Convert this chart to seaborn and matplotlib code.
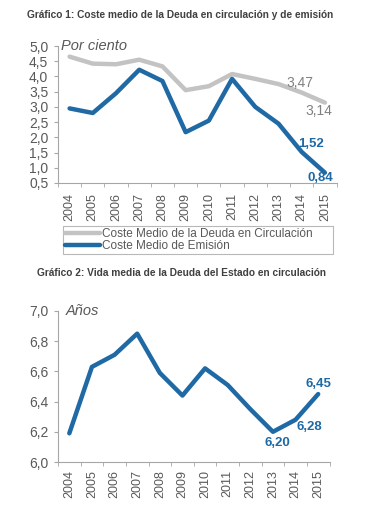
import matplotlib
matplotlib.use("Agg")
import matplotlib.pyplot as plt
import seaborn as sns
import pandas as pd
from matplotlib.ticker import FixedLocator, FuncFormatter
from matplotlib.lines import Line2D

years = ["2004", "2005", "2006", "2007", "2008", "2009", "2010", "2011", "2012", "2013", "2014", "2015"]
coste_circulacion = [4.65, 4.42, 4.40, 4.55, 4.33, 3.55, 3.68, 4.08, 3.92, 3.75, 3.47, 3.14]
coste_emision = [2.95, 2.80, 3.45, 4.22, 3.85, 2.17, 2.55, 3.92, 3.00, 2.45, 1.52, 0.84]
vida_media = [6.19, 6.63, 6.71, 6.85, 6.59, 6.44, 6.62, 6.51, 6.35, 6.20, 6.28, 6.45]

label_circ = "Coste Medio de la Deuda en Circulación"
label_emis = "Coste Medio de Emisión"
title1 = "Gráfico 1: Coste medio de la Deuda en circulación y de emisión"
title2 = "Gráfico 2: Vida media de la Deuda del Estado en circulación"
ylab1 = "Por ciento"
ylab2 = "Años"
yticks1 = [0.5, 1.0, 1.5, 2.0, 2.5, 3.0, 3.5, 4.0, 4.5, 5.0]
yticks2 = [6.0, 6.2, 6.4, 6.6, 6.8, 7.0]

sns.set_style("white")
plt.rcParams["font.family"] = ["Liberation Sans", "DejaVu Sans"]

BLUE = "#1f69a5"
GRAY = "#c3c3c3"
TXT = "#595959"

W, H = 377, 523
fig = plt.figure(figsize=(W / 100, H / 100), dpi=100)

def px_axes(left, top, right, bottom):
    return fig.add_axes([left / W, 1 - bottom / H, (right - left) / W, (bottom - top) / H])

df1 = pd.DataFrame({"x": list(range(len(years))) * 2,
                    "y": coste_circulacion + coste_emision,
                    "serie": [label_circ] * len(years) + [label_emis] * len(years)})
df2 = pd.DataFrame({"x": list(range(len(years))), "y": vida_media})

def style_axes(ax, yticks, fmt, ylim, xpad):
    for s in ["top", "right"]:
        ax.spines[s].set_visible(False)
    for s in ["left", "bottom"]:
        ax.spines[s].set_color("#a6a6a6")
        ax.spines[s].set_linewidth(0.8)
    ax.set_xlim(-0.5, len(years) - 0.5)
    ax.set_ylim(*ylim)
    ax.set_yticks(yticks)
    ax.yaxis.set_major_formatter(FuncFormatter(lambda v, p: fmt.format(v).replace(".", ",")))
    ax.set_xticks(range(len(years)))
    ax.set_xticklabels(years, rotation=90)
    ax.xaxis.set_minor_locator(FixedLocator([i - 0.5 for i in range(len(years) + 1)]))
    ax.tick_params(axis="x", which="major", length=0, pad=xpad, labelsize=9, labelcolor=TXT)
    ax.tick_params(axis="x", which="minor", length=3, color="#a6a6a6", direction="out", bottom=True)
    ax.tick_params(axis="y", length=3, color="#a6a6a6", direction="out", left=True, labelsize=10,
                   labelcolor=TXT, pad=4)
    ax.set_xlabel("")
    ax.set_ylabel("")

# Chart 1
ax1 = px_axes(58, 46, 336.5, 183)
sns.lineplot(data=df1, x="x", y="y", hue="serie", palette=[GRAY, BLUE], linewidth=3.2,
             ax=ax1, legend=False, sort=False)
style_axes(ax1, yticks1, "{:.1f}", (0.5, 5.0), 7)
ax1.text(0.01, 1.0, ylab1, transform=ax1.transAxes, fontsize=10.5, style="italic", color=TXT,
         va="center", ha="left")
fig.text(27 / W, 1 - 15 / H, title1, fontsize=7.3, fontweight="bold", color="#404040",
         va="center", ha="left")

ann1 = [(10, coste_circulacion[10], (-1.5, 7), "#808080", "normal", 10),
        (11, coste_circulacion[11], (-4, -6), "#808080", "normal", 10),
        (10, coste_emision[10], (6.5, 6), BLUE, "bold", 9.5),
        (11, coste_emision[11], (-3.5, -4), BLUE, "bold", 9.5)]
for x, y, off, col, wt, fs in ann1:
    ax1.annotate(f"{y:.2f}".replace(".", ","), (x, y), xytext=off, textcoords="offset points",
                 ha="center", va="center", fontsize=fs, color=col, fontweight=wt)

handles = [Line2D([], [], color=GRAY, lw=3.2), Line2D([], [], color=BLUE, lw=3.2)]
leg = fig.legend(handles, [label_circ, label_emis], loc="upper left",
                 bbox_to_anchor=(63 / W, 1 - 248 / H, 270 / W, 22 / H), mode="expand",
                 fontsize=8.5, frameon=True,
                 fancybox=False, handlelength=3.0, handletextpad=0.15, labelspacing=0.0,
                 borderpad=0.15, borderaxespad=0)
leg.get_frame().set_edgecolor("#a6a6a6")
leg.get_frame().set_linewidth(0.8)
for t in leg.get_texts():
    t.set_color(TXT)

# Chart 2
ax2 = px_axes(58, 311, 329.5, 462)
sns.lineplot(data=df2, x="x", y="y", color=BLUE, linewidth=3.2, ax=ax2, sort=False)
style_axes(ax2, yticks2, "{:.1f}", (6.0, 7.0), 5.5)
ax2.text(0.03, 1.0, ylab2, transform=ax2.transAxes, fontsize=10.5, style="italic", color=TXT,
         va="center", ha="left")
fig.text(37 / W, 1 - 273 / H, title2, fontsize=7.3, fontweight="bold", color="#404040",
         va="center", ha="left")

ann2 = [(9, vida_media[9], (3, -8)),
        (10, vida_media[10], (10, -5)),
        (11, vida_media[11], (0, 7))]
for x, y, off in ann2:
    ax2.annotate(f"{y:.2f}".replace(".", ","), (x, y), xytext=off, textcoords="offset points",
                 ha="center", va="center", fontsize=9.5, color=BLUE, fontweight="bold")

fig.savefig("out.png", dpi=100)
